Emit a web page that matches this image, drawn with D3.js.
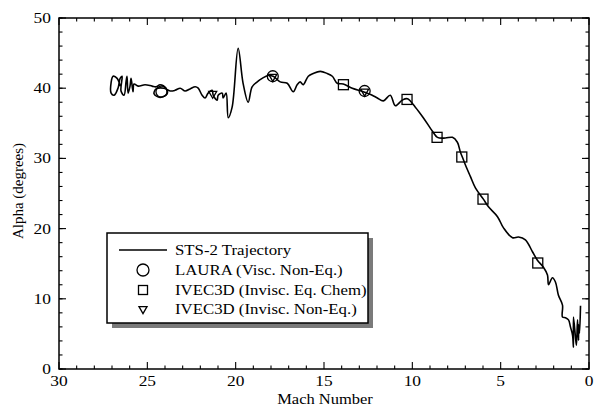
<!DOCTYPE html>
<html><head><meta charset="utf-8">
<script src="https://cdn.jsdelivr.net/npm/d3@7"></script>
<style>body{margin:0;background:#fff}svg{display:block}text{font-family:"Liberation Serif","Times New Roman",serif;fill:#000}</style>
</head><body>
<svg id="c" width="595" height="412"></svg>
<script>
// STS-2 trajectory: [Mach, Alpha]
const trajMach = [26.54,26.71,26.94,27.05,27.05,26.88,26.66,26.54,26.43,26.49,26.32,26.20,26.15,26.09,25.98,25.92,25.81,25.75,25.52,25.13,24.73,24.50,24.28,23.94,23.88,24.28,24.62,24.50,24.05,23.71,23.43,23.14,22.86,22.58,22.29,22.12,21.90,21.73,21.56,21.33,21.27,21.05,20.99,20.76,20.71,20.54,20.42,20.20,19.86,19.58,19.29,19.07,18.78,18.50,18.16,17.88,17.48,17.08,16.74,16.52,16.35,16.18,15.89,15.61,15.21,14.82,14.53,14.25,13.91,13.40,12.78,12.27,11.98,11.64,11.25,10.96,10.57,10.28,9.83,9.38,8.87,8.58,8.13,7.73,7.45,7.28,7.17,7.00,6.71,6.43,5.98,5.69,5.18,4.84,4.33,3.99,3.60,3.20,2.92,2.58,2.35,2.29,2.07,1.90,1.73,1.50,1.50,1.33,1.16,1.05,0.93,0.88,0.88,0.76,0.71,0.65,0.59,0.59,0.54,0.48];
const trajAlpha = [40.3,41.4,41.7,40.8,39.3,39.0,40.0,41.4,41.7,39.6,39.0,41.0,41.7,39.3,40.3,41.4,39.5,40.6,40.3,40.5,40.3,40.2,40.5,40.0,39.2,38.7,39.2,39.9,40.0,39.6,39.7,40.0,39.6,39.9,40.2,40.0,39.0,38.6,39.3,39.7,39.0,38.3,39.0,39.3,38.6,39.3,35.8,37.3,45.7,40.7,38.0,40.2,40.9,41.4,41.8,41.7,40.9,40.7,39.5,40.5,40.9,40.5,41.7,42.1,42.4,42.1,41.7,40.7,40.6,40.0,39.5,39.0,38.6,38.2,39.0,37.5,38.3,38.5,37.3,35.8,33.9,33.0,32.9,33.0,32.3,30.9,30.2,29.1,27.4,25.8,24.2,23.1,21.7,20.1,18.7,18.8,18.4,16.7,15.5,14.5,13.4,12.0,13.0,12.4,10.5,9.1,7.4,7.3,7.0,6.0,4.8,3.1,7.4,4.4,3.4,7.0,4.1,6.3,5.1,9.0];
// LAURA (Visc. Non-Eq.)
const lauraMach = [24.2, 17.9, 12.7];
const lauraAlpha = [39.5, 41.7, 39.6];
// IVEC3D (Invisc. Eq. Chem)
const eqMach = [13.9, 10.3, 8.6, 7.2, 6.0, 2.9];
const eqAlpha = [40.5, 38.4, 33.0, 30.2, 24.2, 15.1];
// IVEC3D (Invisc. Non-Eq.)
const neqMach = [21.3, 17.9, 12.7];
const neqAlpha = [39.3, 41.7, 39.6];
const xTicks = [30, 25, 20, 15, 10, 5, 0];
const yTicks = [0, 10, 20, 30, 40, 50];
const legendLabels = ["STS-2 Trajectory", "LAURA (Visc. Non-Eq.)", "IVEC3D (Invisc. Eq. Chem)", "IVEC3D (Invisc. Non-Eq.)"];

const svg = d3.select("#c");
const L = 59, R = 589, T = 18, B = 369;
const x = d3.scaleLinear().domain([30, 0]).range([L, R]);
const y = d3.scaleLinear().domain([0, 50]).range([B, T]);

// frame
svg.append("rect").attr("x", L).attr("y", T).attr("width", R - L).attr("height", B - T)
  .attr("fill", "none").attr("stroke", "#000").attr("stroke-width", 1.5);

// ticks
const g = svg.append("g").attr("stroke", "#000").attr("stroke-width", 1.1);
d3.range(0, 31, 1).forEach(v => {
  const len = v % 5 === 0 ? 7 : 3.5;
  g.append("line").attr("x1", x(v)).attr("x2", x(v)).attr("y1", B).attr("y2", B - len);
  g.append("line").attr("x1", x(v)).attr("x2", x(v)).attr("y1", T).attr("y2", T + len);
});
d3.range(0, 51, 2).forEach(v => {
  g.append("line").attr("y1", y(v)).attr("y2", y(v)).attr("x1", L).attr("x2", L + 3.5);
  g.append("line").attr("y1", y(v)).attr("y2", y(v)).attr("x1", R).attr("x2", R - 3.5);
});
yTicks.forEach(v => {
  g.append("line").attr("y1", y(v)).attr("y2", y(v)).attr("x1", L).attr("x2", L + 7);
  g.append("line").attr("y1", y(v)).attr("y2", y(v)).attr("x1", R).attr("x2", R - 7);
});

// tick labels (reference type is horizontally stretched)
svg.append("g").selectAll("text").data(xTicks).join("text")
  .attr("transform", d => `translate(${x(d)},386) scale(1.2,1)`).attr("text-anchor", "middle")
  .attr("font-size", 14.5).text(d => d);
svg.append("g").selectAll("text").data(yTicks).join("text")
  .attr("transform", d => `translate(51,${y(d) + 5}) scale(1.2,1)`).attr("text-anchor", "end")
  .attr("font-size", 14.5).text(d => d);

// axis titles
svg.append("text").attr("transform", "translate(325,404) scale(1.1,1)").attr("text-anchor", "middle")
  .attr("font-size", 15).text("Mach Number");
svg.append("text").attr("transform", "translate(23,191) rotate(-90)").attr("text-anchor", "middle")
  .attr("font-size", 15).text("Alpha (degrees)");

// trajectory
const traj = trajMach.map((m, i) => [m, trajAlpha[i]]);
svg.append("path").datum(traj)
  .attr("d", d3.line().x(d => x(d[0])).y(d => y(d[1])).curve(d3.curveCatmullRom.alpha(0.5)))
  .attr("fill", "none").attr("stroke", "#000").attr("stroke-width", 1.6).attr("stroke-linejoin", "round");

// markers
const mk = svg.append("g").attr("fill", "none").attr("stroke", "#000").attr("stroke-width", 1.3);
lauraMach.forEach((m, i) => {
  mk.append("circle").attr("cx", x(m)).attr("cy", y(lauraAlpha[i])).attr("r", 5.5);
});
eqMach.forEach((m, i) => {
  mk.append("rect").attr("x", x(m) - 5).attr("y", y(eqAlpha[i]) - 5).attr("width", 10).attr("height", 10);
});
const tri = d3.symbol().type(d3.symbolTriangle).size(28);
neqMach.forEach((m, i) => {
  mk.append("path").attr("d", tri()).attr("transform", `translate(${x(m)},${y(neqAlpha[i]) + 0.5}) rotate(180)`);
});

// legend
const lx = 107, ly = 233, lw = 261, lh = 90;
svg.append("rect").attr("x", lx + 5).attr("y", ly + 5).attr("width", lw).attr("height", lh).attr("fill", "#7a7a7a");
svg.append("rect").attr("x", lx).attr("y", ly).attr("width", lw).attr("height", lh)
  .attr("fill", "#fff").attr("stroke", "#000").attr("stroke-width", 1.5);
const rowY = [250, 270, 290, 309];
const lg = svg.append("g");
lg.append("line").attr("x1", 119).attr("x2", 167).attr("y1", rowY[0]).attr("y2", rowY[0]).attr("stroke", "#000").attr("stroke-width", 1.5);
lg.append("circle").attr("cx", 143).attr("cy", rowY[1]).attr("r", 6).attr("fill", "none").attr("stroke", "#000").attr("stroke-width", 1.3);
lg.append("rect").attr("x", 138.5).attr("y", rowY[2] - 4.5).attr("width", 9).attr("height", 9).attr("fill", "none").attr("stroke", "#000").attr("stroke-width", 1.3);
lg.append("path").attr("d", tri()).attr("transform", `translate(143,${rowY[3]}) rotate(180)`).attr("fill", "none").attr("stroke", "#000").attr("stroke-width", 1.3);
lg.selectAll("text").data(legendLabels).join("text")
  .attr("transform", (d, i) => `translate(175,${rowY[i] + 5}) scale(1.12,1)`).attr("font-size", 15).text(d => d);
</script>
</body></html>
